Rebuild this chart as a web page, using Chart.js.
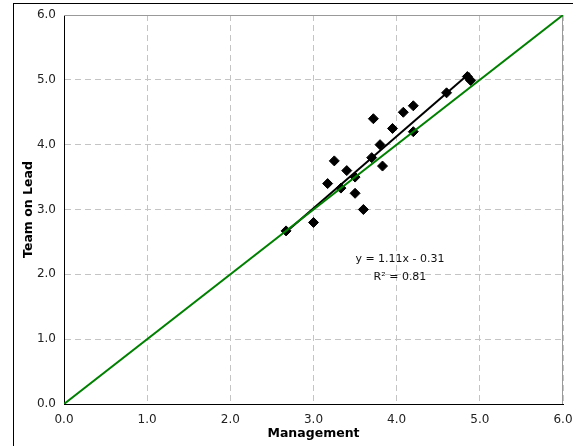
<!DOCTYPE html>
<html>
<head>
<meta charset="utf-8">
<script src="https://cdn.jsdelivr.net/npm/chart.js@4.4.1/dist/chart.umd.min.js"></script>
<style>
  body { margin: 0; background: #fff; }
  #wrap { position: relative; width: 573px; height: 446px; overflow: hidden; }
  #marco { position: absolute; left: 13px; top: 3px; width: 600px; height: 500px; border: 1px solid #000; box-sizing: border-box; }
  canvas { position: absolute; left: 0; top: 0; }
</style>
</head>
<body>
<div id="wrap">
  <div id="marco"></div>
  <canvas id="scatterChart" width="573" height="446"></canvas>
</div>
<script>
// valores
var management = [2.67, 3.0, 3.17, 3.25, 3.33, 3.4, 3.5, 3.5, 3.6, 3.7, 3.83, 3.8, 3.72, 3.95, 4.08, 4.2, 4.2, 4.6, 4.85, 4.89];
var teamOnLead = [2.67, 2.8, 3.4, 3.75, 3.33, 3.6, 3.5, 3.25, 3.0, 3.8, 3.67, 4.0, 4.4, 4.25, 4.5, 4.6, 4.2, 4.8, 5.05, 4.99];

var pendiente = 1.11;
var intercepto = -0.31;
var r2 = 0.81;
var tendenciaX = [2.67, 4.88];
var identidadX = [0, 6];
var ticksEje = [0, 1, 2, 3, 4, 5, 6];

var puntos = [];
for (var i = 0; i < management.length; i++) {
  puntos.push({x: management[i], y: teamOnLead[i]});
}
var tendencia = tendenciaX.map(function(x){ return {x: x, y: pendiente * x + intercepto}; });
var identidad = identidadX.map(function(x){ return {x: x, y: x}; });

var fuente = "'DejaVu Sans', Verdana, sans-serif";

// marco gris arriba / derecha + texto de la ecuacion
var extras = {
  id: 'extras',
  beforeDatasetsDraw: function(chart){
    var a = chart.chartArea, c = chart.ctx;
    c.save();
    c.strokeStyle = '#999';
    c.lineWidth = 1;
    c.beginPath();
    c.moveTo(a.left, a.top + 0.5);
    c.lineTo(a.right - 0.5, a.top + 0.5);
    c.lineTo(a.right - 0.5, a.bottom);
    c.stroke();
    c.restore();
  },
  afterDatasetsDraw: function(chart){
    var c = chart.ctx;
    var sx = chart.scales.x, sy = chart.scales.y;
    var cx = sx.getPixelForValue(4.04);
    var y1 = sy.getPixelForValue(2.24);
    c.save();
    c.fillStyle = '#111';
    c.font = '11px ' + fuente;
    c.textAlign = 'center';
    c.textBaseline = 'middle';
    c.fillText('y = ' + pendiente.toFixed(2) + 'x - ' + Math.abs(intercepto).toFixed(2), cx, y1);
    c.fillText('R\u00B2 = ' + r2.toFixed(2), cx, y1 + 18);
    c.restore();
  }
};

var ejeComun = function(titulo, padTitulo){
  return {
    type: 'linear',
    min: 0,
    max: 6,
    afterBuildTicks: function(s){ s.ticks = ticksEje.map(function(v){ return {value: v}; }); },
    ticks: {
      color: '#222',
      font: {family: fuente, size: 12},
      padding: 8,
      callback: function(v){ return Number(v).toFixed(1); }
    },
    grid: { color: '#c4c4c4', lineWidth: 1, drawTicks: false },
    border: { display: true, color: '#000', width: 1, dash: [6, 4] },
    title: {
      display: true,
      text: titulo,
      color: '#000',
      font: {family: fuente, size: 12.5, weight: 'bold'},
      padding: padTitulo
    }
  };
};

var ejeX = ejeComun('Management', {top: 0, bottom: 5});
ejeX.ticks.padding = 9;
ejeX.afterFit = function(s){ s.height = 42; s.paddingLeft = 0; s.paddingRight = 0; };

var ejeY = ejeComun('Team on Lead', {top: 7, bottom: 0});
ejeY.afterFit = function(s){ s.width = 50; s.paddingTop = 0; s.paddingBottom = 0; };

var ctx = document.getElementById('scatterChart').getContext('2d');
var myScatter = new Chart(ctx, {
  type: 'scatter',
  data: {
    datasets: [
      {
        label: 'Identidad',
        type: 'line',
        data: identidad,
        borderColor: '#008000',
        borderWidth: 2,
        pointRadius: 0,
        fill: false,
        order: 0
      },
      {
        label: 'Tendencia',
        type: 'line',
        data: tendencia,
        borderColor: '#000',
        borderWidth: 2,
        pointRadius: 0,
        fill: false,
        order: 1
      },
      {
        label: 'Datos',
        data: puntos,
        pointStyle: 'rectRot',
        pointRadius: 5,
        pointBackgroundColor: '#000',
        pointBorderColor: '#000',
        pointBorderWidth: 1,
        order: 2
      }
    ]
  },
  options: {
    responsive: false,
    animation: false,
    layout: { padding: {left: 14, top: 15, right: 10, bottom: 0} },
    plugins: { legend: {display: false}, tooltip: {enabled: false} },
    scales: { x: ejeX, y: ejeY }
  },
  plugins: [extras]
});
</script>
</body>
</html>
